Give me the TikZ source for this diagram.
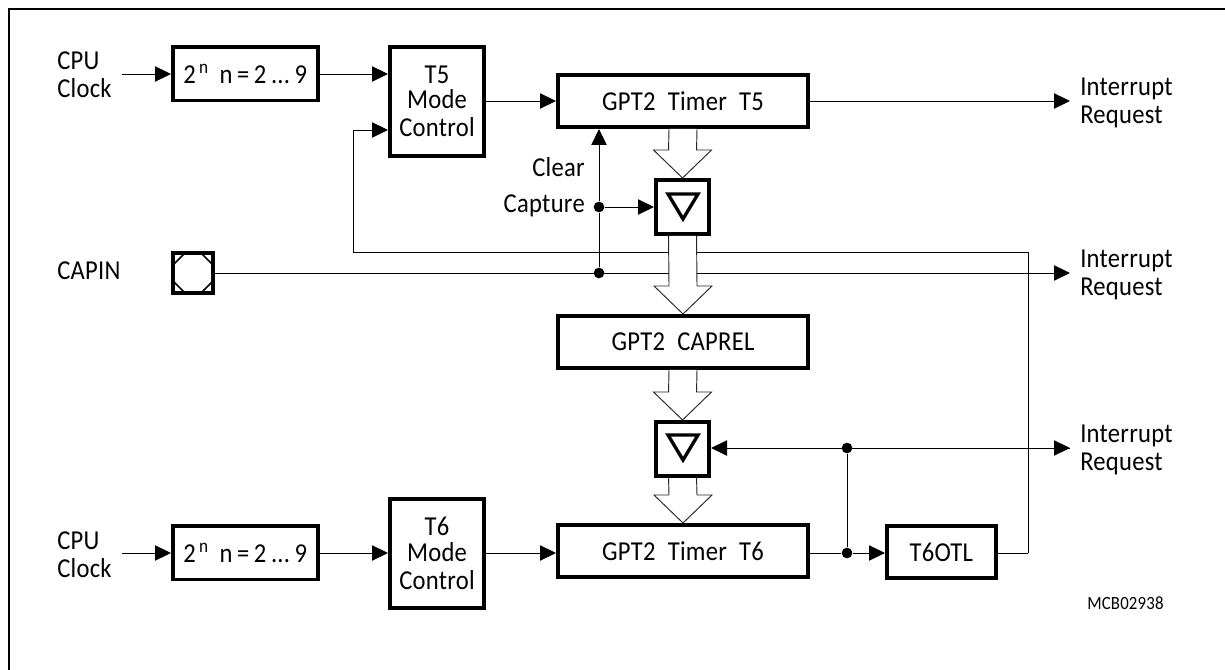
\documentclass[tikz,border=0pt]{standalone}
\usepackage{fontspec}
\setmainfont[FakeStretch=0.9,LetterSpace=1,WordSpace=2.1]{Carlito}
\usetikzlibrary{calc,arrows.meta}
\newcommand{\busar}[2]{%
  \draw[buswire,fill=white] ($(#1.south)+(-14,0)$) -- ($(#2.north)+(-14,-28)$) -- ($(#2.north)+(-29,-28)$) -- (#2.north) -- ($(#2.north)+(29,-28)$) -- ($(#2.north)+(14,-28)$) -- ($(#1.south)+(14,0)$);
}
\begin{document}
\begin{tikzpicture}[x=0.75pt,y=-0.75pt,
  font=\fontsize{20.5pt}{20pt}\selectfont,
  blk/.style={draw=black,line width=2.8pt,fill=white,inner sep=0pt,align=center,anchor=north west},
  wire/.style={draw=black,line width=0.7pt},
  sig/.style={wire,-{Triangle[length=12pt,width=11.5pt]}},
  buswire/.style={draw=black!85,line width=0.7pt},
  lbl/.style={anchor=west,inner sep=0pt,align=left},
  jn/.style={circle,fill=black,inner sep=0pt,minimum size=8pt},
  latchbox/.style={blk,minimum width=40pt,minimum height=40.7pt},
  longbox/.style={blk,minimum width=187.7pt,minimum height=39.2pt},
  divbox/.style={blk,minimum width=108.7pt,minimum height=40.2pt},
  modebox/.style={blk,minimum width=70.7pt,minimum height=81.7pt,font=\fontsize{20.5pt}{21pt}\selectfont},
  tri/.style={draw=black,line width=2.5pt,line join=miter}]
\useasboundingbox (0,0) rectangle (1225,670);
\draw[line width=2pt,draw=black] (9,670) -- (9,9) -- (1225,9);

% blocks
\node[divbox] (divA) at (171,45) {2\textsuperscript{\,n}\hspace{0.4em}n\,=\,2\,...\,9};
\node[modebox] (modeA) at (388,45) {\rule{0pt}{0pt}\raisebox{-2pt}{T5}\\Mode\\Control};
\node[longbox] (timerA) at (556,73) {GPT2 Timer T5};
\node[latchbox] (latchA) at (654,178) {};
\node[longbox] (caprel) at (556,314) {GPT2 CAPREL};
\node[latchbox] (latchB) at (654,420) {};
\node[longbox] (timerB) at (556,523) {GPT2 Timer T6};
\node[divbox] (divB) at (171,524) {2\textsuperscript{\,n}\hspace{0.4em}n\,=\,2\,...\,9};
\node[modebox] (modeB) at (388,497) {\rule{0pt}{0pt}\raisebox{-2pt}{T6}\\Mode\\Control};
\node[blk,minimum width=81.7pt,minimum height=39.2pt] (otl) at (885,524) {T6OTL};
\node[blk,minimum width=30.2pt,minimum height=30.2pt] (pad) at (171,251) {};
\foreach \a/\b/\c/\d in {172/266/186/252, 200/252/214/266, 172/280/186/294, 200/294/214/280}
  \draw[black,line width=1.2pt] (\a,\b) -- (\c,\d);

% triangles
\draw[tri] (668,194) -- (698,194) -- (683,219) -- cycle;
\draw[tri] (668,435) -- (698,435) -- (683,460) -- cycle;

% labels
\node[lbl] (cpuA) at (57,75) {CPU\\[1pt]Clock};
\node[lbl] (cpuB) at (57,555) {CPU\\[1pt]Clock};
\node[lbl] (capin) at (57,271) {CAPIN};
\node[lbl,anchor=east] (clr) at (585,167) {Clear};
\node[lbl,anchor=east] (cap) at (585,206) {Capture};
\node[lbl] (irqA) at (1080,103) {Interrupt\\[1pt]Request};
\node[lbl] (irqB) at (1080,275) {Interrupt\\[1pt]Request};
\node[lbl] (irqC) at (1080,450) {Interrupt\\[1pt]Request};
\node[lbl,font=\fontsize{14pt}{14pt}\selectfont] (code) at (1087,603) {MCB02938};

% named free ends and junctions
\coordinate (inA) at (122,74);
\coordinate (inB) at (122,553);
\coordinate (outA) at (1070,101);
\coordinate (outB) at (1070,273);
\coordinate (outC) at (1070,448);
\node[jn] (jCap) at (599,207) {};
\node[jn] (jIn) at (599,273) {};
\node[jn] (jLatch) at (847,448) {};
\node[jn] (jOut) at (847,553) {};
\coordinate (cornerL) at (353,252);
\coordinate (cornerR) at (1028,252);
\coordinate (cornerB) at (1028,553);
\coordinate (modeInA) at (353,130);

% connectors
\draw[sig] (inA) -- (divA.west |- inA);
\draw[sig] (divA.east |- inA) -- (modeA.west |- inA);
\draw[sig] (modeA.east |- outA) -- (timerA.west |- outA);
\draw[sig] (timerA.east |- outA) -- (outA);
\draw[sig] (cornerR) -- (cornerL) -- (modeInA) -- (modeA.west |- modeInA);
\draw[wire] (cornerB) -- (cornerR);
\draw[wire] (otl.east |- cornerB) -- (cornerB);
\draw[sig] (pad.east |- outB) -- (outB);
\draw[sig] (jIn) -- (jCap) -- (jCap |- timerA.south);
\draw[sig] (jCap) -- (jCap -| latchA.west);
\draw[sig] (outC) -- (latchB.east |- outC);
\draw[sig] (jLatch) -- (outC);
\draw[wire] (jLatch) -- (jOut);
\draw[wire] (timerB.east |- jOut) -- (jOut);
\draw[sig] (jOut) -- (otl.west |- jOut);
\draw[sig] (inB) -- (divB.west |- inB);
\draw[sig] (divB.east |- inB) -- (modeB.west |- inB);
\draw[sig] (modeB.east |- inB) -- (timerB.west |- inB);

% buses
\busar{timerA}{latchA}
\busar{latchA}{caprel}
\busar{caprel}{latchB}
\busar{latchB}{timerB}
\end{tikzpicture}
\end{document}
